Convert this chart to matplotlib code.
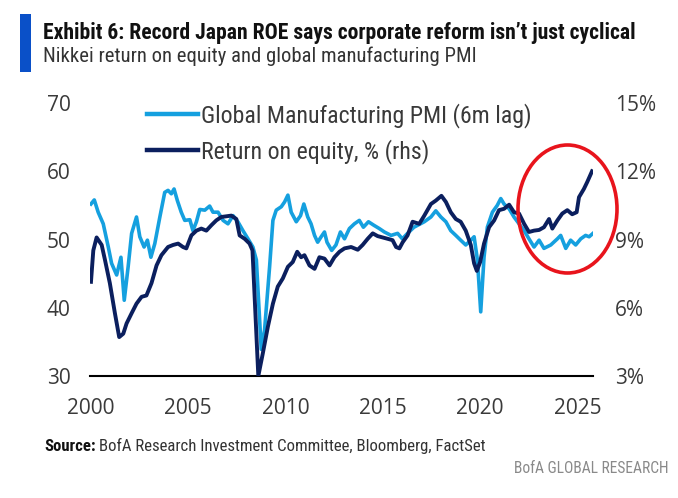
import matplotlib
matplotlib.use('Agg')
import matplotlib.pyplot as plt
from matplotlib.patches import Ellipse, Rectangle
from matplotlib.ticker import FuncFormatter

# Global manufacturing PMI (6m lag), left axis
pmi_dates = [2000.0, 2000.17, 2000.37, 2000.63, 2000.89, 2001.06, 2001.32, 2001.54, 2001.71, 2001.91,
             2002.09, 2002.34, 2002.51, 2002.73, 2002.9, 2003.08, 2003.28, 2003.54, 2003.79, 2003.96,
             2004.13, 2004.27, 2004.44, 2004.64, 2004.82, 2005.08, 2005.24, 2005.42, 2005.59, 2005.85,
             2006.1, 2006.27, 2006.53, 2006.79, 2007.04, 2007.3, 2007.55, 2007.81, 2008.07, 2008.32,
             2008.5, 2008.75, 2008.92, 2009.18, 2009.35, 2009.52, 2009.78, 2009.95, 2010.12, 2010.29,
             2010.55, 2010.77, 2010.94, 2011.14, 2011.31, 2011.49, 2011.65, 2011.83, 2012.0, 2012.13,
             2012.37, 2012.59, 2012.82, 2013.03, 2013.28, 2013.54, 2013.79, 2014.0, 2014.26, 2014.53,
             2014.82, 2015.08, 2015.42, 2015.76, 2016.0, 2016.27, 2016.6, 2017.13, 2017.47, 2017.72,
             2017.98, 2018.24, 2018.49, 2018.75, 2019.0, 2019.26, 2019.52, 2019.69, 2019.86, 2020.03,
             2020.2, 2020.37, 2020.63, 2020.88, 2021.06, 2021.23, 2021.49, 2021.74, 2022.0, 2022.26,
             2022.51, 2022.77, 2023.03, 2023.28, 2023.63, 2023.97, 2024.14, 2024.4, 2024.65, 2024.91,
             2025.17, 2025.42, 2025.6, 2025.8]
pmi_vals = [55.2, 55.8, 54.0, 52.3, 48.9, 46.5, 44.8, 47.4, 41.1, 46.0,
            50.9, 53.3, 50.4, 48.9, 49.9, 47.4, 49.4, 53.3, 56.9, 57.2,
            56.7, 57.4, 55.7, 54.0, 52.8, 52.9, 51.3, 52.6, 54.4, 54.3,
            54.9, 54.0, 54.0, 52.8, 52.3, 53.5, 52.6, 51.3, 50.1, 48.9,
            47.0, 33.9, 36.7, 46.0, 52.8, 54.3, 54.8, 55.5, 56.5, 54.0,
            52.6, 53.5, 55.2, 53.3, 52.3, 50.6, 49.6, 50.4, 51.1, 49.6,
            48.4, 49.2, 51.1, 50.1, 51.6, 52.3, 52.8, 51.8, 52.6, 52.1,
            51.6, 51.1, 50.6, 50.9, 50.1, 50.9, 51.8, 52.6, 53.3, 54.2,
            53.3, 52.6, 51.3, 50.6, 49.9, 49.2, 49.9, 50.4, 47.0, 39.4,
            47.4, 51.8, 54.0, 55.0, 56.0, 55.2, 54.5, 53.3, 52.3, 51.3,
            50.1, 48.9, 49.9, 48.7, 49.2, 50.1, 50.6, 48.7, 49.9, 49.2,
            50.1, 50.6, 50.4, 50.9]

# Nikkei return on equity, %, right axis
roe_dates = [2000.0, 2000.12, 2000.29, 2000.55, 2000.72, 2000.97, 2001.23, 2001.45, 2001.66, 2001.83,
             2002.09, 2002.34, 2002.6, 2002.85, 2003.11, 2003.37, 2003.62, 2003.96, 2004.22, 2004.48,
             2004.73, 2004.9, 2005.16, 2005.42, 2005.67, 2005.93, 2006.19, 2006.44, 2006.7, 2006.96,
             2007.21, 2007.47, 2007.64, 2007.9, 2008.15, 2008.3, 2008.6, 2008.83, 2009.09, 2009.35,
             2009.6, 2009.86, 2010.12, 2010.37, 2010.6, 2010.8, 2010.97, 2011.23, 2011.49, 2011.74,
             2012.0, 2012.26, 2012.51, 2012.77, 2013.03, 2013.37, 2013.71, 2013.96, 2014.22, 2014.48,
             2014.73, 2014.99, 2015.25, 2015.5, 2015.68, 2015.85, 2016.02, 2016.27, 2016.53, 2016.87,
             2017.13, 2017.47, 2017.72, 2018.01, 2018.24, 2018.49, 2018.75, 2019.0, 2019.26, 2019.52,
             2019.69, 2019.83, 2020.0, 2020.2, 2020.46, 2020.72, 2020.97, 2021.23, 2021.49, 2021.74,
             2022.0, 2022.26, 2022.51, 2022.77, 2023.03, 2023.28, 2023.54, 2023.71, 2023.97, 2024.22,
             2024.48, 2024.73, 2024.96, 2025.08, 2025.33, 2025.5, 2025.75]
roe_vals = [7.14, 8.52, 9.09, 8.76, 8.10, 7.08, 5.76, 4.71, 4.86, 5.31,
            5.76, 6.18, 6.48, 6.54, 7.08, 7.86, 8.31, 8.67, 8.76, 8.82,
            8.67, 8.61, 9.18, 9.39, 9.48, 9.39, 9.63, 9.84, 9.99, 10.02,
            10.05, 9.90, 9.18, 9.03, 8.82, 8.52, 3.0, 3.99, 5.16, 6.18,
            6.93, 7.29, 7.80, 8.01, 8.46, 8.22, 8.31, 7.86, 7.71, 8.22,
            8.16, 7.86, 8.22, 8.46, 8.61, 8.67, 8.55, 8.76, 9.03, 9.27,
            9.15, 9.09, 9.03, 8.97, 8.67, 8.61, 8.88, 9.18, 9.78, 9.69,
            10.05, 10.56, 10.71, 10.92, 10.65, 10.20, 9.90, 9.78, 9.39, 8.76,
            7.95, 7.62, 8.01, 8.82, 9.54, 9.84, 10.29, 10.35, 10.53, 10.20,
            10.14, 9.69, 9.33, 9.39, 9.42, 9.54, 9.90, 9.48, 9.84, 10.14,
            10.29, 10.11, 10.20, 10.86, 11.22, 11.52, 12.0]

x_ticks = [2000, 2005, 2010, 2015, 2020, 2025]
left_ticks = [30, 40, 50, 60, 70]
right_ticks = [3, 6, 9, 12, 15]

NARROW = ['Roboto Condensed', 'Roboto', 'DejaVu Sans']
TICKF = ['Open Sans', 'DejaVu Sans']
LIGHT = '#15a0df'
DARK = '#0b1f5e'
W, H = 678, 498

fig = plt.figure(figsize=(W / 100, H / 100), dpi=100)
ax = fig.add_axes([90 / W, (H - 376) / H, (593 - 90) / W, (376 - 103) / H])
ax2 = ax.twinx()

l1, = ax.plot(pmi_dates, pmi_vals, color=LIGHT, linewidth=2.6, solid_joinstyle='round')
l2, = ax2.plot(roe_dates, roe_vals, color=DARK, linewidth=2.8, solid_joinstyle='round')

ax.set_xlim(1999.95, 2025.8)
ax.set_ylim(30, 70)
ax2.set_ylim(3, 15)
ax.set_xticks(x_ticks)
ax.set_yticks(left_ticks)
ax2.set_yticks(right_ticks)
ax2.yaxis.set_major_formatter(FuncFormatter(lambda v, p: '{:.0f}%'.format(v)))

for a in (ax, ax2):
    for s in a.spines.values():
        s.set_visible(False)
ax.spines['bottom'].set_visible(True)
ax.spines['bottom'].set_color('black')
ax.spines['bottom'].set_linewidth(1.5)
ax.spines['bottom'].set_zorder(0)

ax.tick_params(axis='x', length=0, pad=16)
ax.tick_params(axis='y', length=0, pad=14)
ax2.tick_params(axis='y', length=0, pad=16)
for lab in ax.get_xticklabels() + ax.get_yticklabels() + ax2.get_yticklabels():
    lab.set_family(TICKF)
    lab.set_fontsize(15)
    lab.set_color('#3a3a3a')

leg = ax2.legend([l1, l2], ['Global Manufacturing PMI (6m lag)', 'Return on equity, % (rhs)'],
                 loc='upper left', bbox_to_anchor=(147 / W, 1 - 103 / H), bbox_transform=fig.transFigure,
                 frameon=False, borderpad=0, borderaxespad=0, handlelength=2.13, handletextpad=0.14,
                 labelspacing=0.45, prop={'family': NARROW, 'size': 17.2})
for t in leg.get_texts():
    t.set_color('#3a3a3a')
for h in leg.legend_handles:
    h.set_linewidth(3.2)

# red circle highlighting the recent divergence
fig.add_artist(Ellipse((567.5 / W, 1 - 209 / H), 99 / W, 128 / H, transform=fig.transFigure,
                       fill=False, edgecolor='#e8141c', linewidth=2.6))

# header
fig.add_artist(Rectangle((19.5 / W, 1 - 72 / H), 11 / W, 58 / H, transform=fig.transFigure,
                         color='#0a50c8', linewidth=0))
fig.text(43 / W, 1 - 39 / H, 'Exhibit 6: Record Japan ROE says corporate reform isn\u2019t just cyclical',
         family=NARROW, fontweight='bold', fontsize=15.6, color='#111111', va='baseline')
fig.text(43 / W, 1 - 62 / H, 'Nikkei return on equity and global manufacturing PMI',
         family=NARROW, fontsize=14.9, color='#333333', va='baseline')

# footer
src = fig.text(44 / W, 1 - 451 / H, 'Source:', family=NARROW, fontweight='bold', fontsize=12.1,
               color='#111111', va='baseline')
fig.canvas.draw()
bb = src.get_window_extent(fig.canvas.get_renderer())
fig.text((bb.x1 + 3) / W, 1 - 451 / H, 'BofA Research Investment Committee, Bloomberg, FactSet',
         family=NARROW, fontsize=12.1, color='#333333', va='baseline')
fig.text(668 / W, 1 - 473 / H, 'BofA GLOBAL RESEARCH', family=NARROW, fontsize=11.2,
         color='#8a8a8a', va='baseline', ha='right')

fig.savefig('out.png', dpi=100)
